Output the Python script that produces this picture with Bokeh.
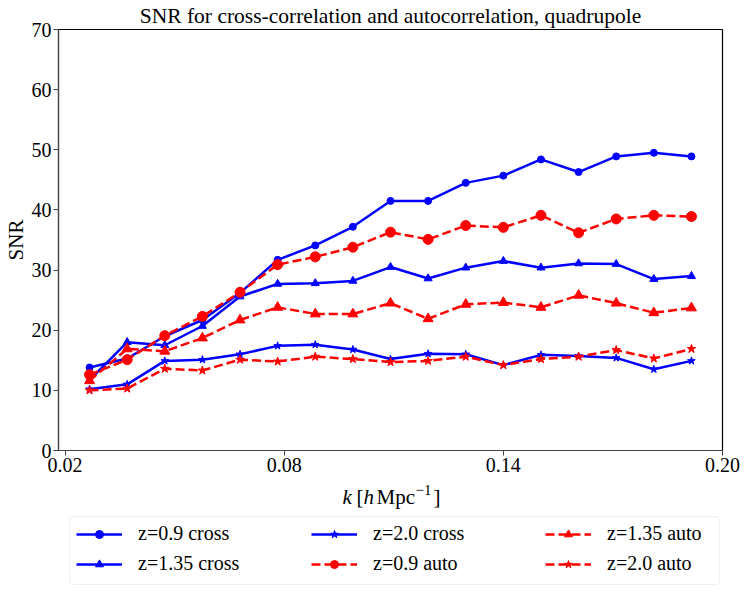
from bokeh.plotting import figure
from bokeh.layouts import column
from bokeh.models import (Range1d, FixedTicker, Legend, LegendItem, Label,
                          BoxAnnotation, Title)
from bokeh.embed import file_html
from bokeh.resources import INLINE

k = [0.0267, 0.0370, 0.0473, 0.0576, 0.0679, 0.0782, 0.0885, 0.0988, 0.1091,
     0.1194, 0.1297, 0.1400, 0.1503, 0.1606, 0.1709, 0.1812, 0.1915]

cross_09 = [13.8, 15.3, 19.0, 21.7, 26.2, 31.7, 34.1, 37.2, 41.5, 41.5, 44.5, 45.7, 48.4, 46.3, 48.9, 49.5, 48.9]
cross_135 = [11.7, 18.0, 17.5, 20.7, 25.6, 27.7, 27.8, 28.2, 30.5, 28.6, 30.4, 31.5, 30.4, 31.1, 31.0, 28.5, 29.0]
cross_20 = [10.2, 11.0, 14.9, 15.1, 16.0, 17.4, 17.6, 16.8, 15.2, 16.1, 16.0, 14.2, 15.9, 15.7, 15.4, 13.5, 14.9]
auto_09 = [12.6, 15.1, 19.1, 22.3, 26.3, 30.9, 32.2, 33.8, 36.3, 35.1, 37.4, 37.1, 39.1, 36.2, 38.5, 39.1, 38.9]
auto_135 = [11.6, 16.9, 16.5, 18.7, 21.7, 23.8, 22.7, 22.7, 24.5, 21.9, 24.3, 24.6, 23.8, 25.8, 24.5, 22.9, 23.7]
auto_20 = [10.0, 10.3, 13.6, 13.3, 15.1, 14.8, 15.6, 15.2, 14.7, 14.9, 15.6, 14.2, 15.2, 15.6, 16.7, 15.3, 16.9]

x_ticks = [0.02, 0.08, 0.14, 0.20]
x_tick_labels = ["0.02", "0.08", "0.14", "0.20"]
y_ticks = [0, 10, 20, 30, 40, 50, 60, 70]

title_text = "SNR for cross-correlation and autocorrelation, quadrupole"

FONT = "'Liberation Serif', 'DejaVu Serif', serif"
BLUE = "#0000ff"
RED = "#ff0000"
W = 740
LEFT, RIGHT = 58, 18

series = [
    ("z=0.9 cross", cross_09, BLUE, "solid", "circle", 7),
    ("z=1.35 cross", cross_135, BLUE, "solid", "triangle", 8),
    ("z=2.0 cross", cross_20, BLUE, "solid", "star", 8),
    ("z=0.9 auto", auto_09, RED, "9 4", "circle", 10),
    ("z=1.35 auto", auto_135, RED, "9 4", "triangle", 10),
    ("z=2.0 auto", auto_20, RED, "9 4", "star", 9),
]

# ---------------- main plot ----------------
p = figure(width=W, height=480, output_backend="svg", toolbar_location=None,
           x_range=Range1d(0.0182, 0.20), y_range=Range1d(0, 70),
           min_border_left=LEFT, min_border_right=RIGHT, min_border_top=29,
           min_border_bottom=30)
p.title = Title(text=title_text, align="center", text_font=FONT,
                text_font_size="21.5px", text_font_style="normal",
                text_color="black", standoff=3)
p.grid.visible = False
p.outline_line_color = "black"
p.outline_line_width = 1.2
p.background_fill_color = "white"
p.border_fill_color = "white"

for ax in (p.xaxis[0], p.yaxis[0]):
    ax.major_tick_out = 5
    ax.major_tick_in = 0
    ax.minor_tick_line_color = None
    ax.axis_line_color = "#444444"
    ax.axis_line_width = 1.2
    ax.major_tick_line_color = "#444444"
    ax.major_label_text_font = FONT
    ax.major_label_text_font_size = "20px"
    ax.major_label_text_color = "black"
    ax.major_label_standoff = 2

p.xaxis.ticker = FixedTicker(ticks=x_ticks)
p.xaxis.major_label_overrides = {t: l for t, l in zip(x_ticks, x_tick_labels)}
p.yaxis.ticker = FixedTicker(ticks=y_ticks)
p.yaxis.axis_label = "SNR"
p.yaxis.axis_label_text_font = FONT
p.yaxis.axis_label_text_font_size = "21px"
p.yaxis.axis_label_text_font_style = "normal"
p.yaxis.axis_label_text_color = "black"
p.yaxis.axis_label_standoff = 1

for label, ys, color, dash, marker, size in series:
    p.line(k, ys, line_color=color, line_width=2.5, line_dash=dash)
    p.scatter(k, ys, marker=marker, size=size, fill_color=color, line_color=color)

# ---------------- bottom strip: x label + legend (page-pixel units) ----------------
H2 = 110
TOP2 = 480  # page y of the strip's top
p2 = figure(width=W, height=H2, output_backend="svg", toolbar_location=None,
            x_range=Range1d(LEFT, W - RIGHT), y_range=Range1d(0, H2),
            x_axis_location=None, y_axis_location=None,
            min_border_left=LEFT, min_border_right=RIGHT,
            min_border_top=0, min_border_bottom=0)
p2.grid.visible = False
p2.outline_line_color = None
p2.background_fill_color = "white"
p2.border_fill_color = "white"


def sy(page_y):
    return TOP2 + H2 - page_y


# x axis label pieces
pieces = [
    (342, 496, "k", "italic", "21px"),
    (356, 496, "[", "normal", "21px"),
    (363, 496, "h", "italic", "21px"),
    (376, 496, "Mpc", "normal", "21px"),
    (415, 489, "\u22121", "normal", "15px"),
    (433, 496, "]", "normal", "21px"),
]
for x, y, t, style, fs in pieces:
    p2.add_layout(Label(x=x, y=sy(y), text=t, text_align="left", text_baseline="alphabetic",
                        text_font=FONT, text_font_style=style, text_font_size=fs,
                        text_color="black"))

# legend frame
p2.add_layout(BoxAnnotation(left=69, right=719, bottom=sy(584), top=sy(516),
                            fill_color="white", fill_alpha=1.0,
                            line_color="#cccccc", line_width=1.2,
                            border_radius=4))

items = []
for label, ys, color, dash, marker, size in series:
    lr = p2.line(k, ys, line_color=color, line_width=2.5, line_dash=dash, visible=False)
    sr = p2.scatter(k, ys, marker=marker, size=size, fill_color=color,
                    line_color=color, visible=False)
    items.append(LegendItem(label=label, renderers=[lr, sr]))

col_x = [76, 311, 545]
for ci in range(3):
    leg = Legend(items=items[2 * ci:2 * ci + 2], location=(col_x[ci] - LEFT, 15),
                 orientation="vertical",
                 label_text_font=FONT, label_text_font_size="20px",
                 label_text_color="black",
                 glyph_width=46, glyph_height=20, label_height=20,
                 label_standoff=16, spacing=7, padding=0, margin=0,
                 border_line_color=None, background_fill_alpha=0.0,
                 inactive_fill_alpha=0.0)
    p2.add_layout(leg, "center")

layout = column(p, p2, spacing=0)
open("out.html", "w").write(file_html(layout, INLINE))
